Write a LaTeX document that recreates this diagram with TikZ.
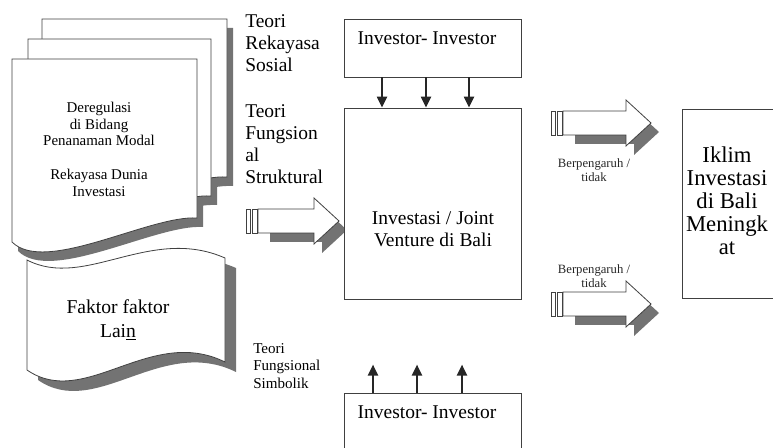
\documentclass[tikz,border=0pt]{standalone}
\usepackage{fontspec}
\setmainfont{Liberation Serif}
\usetikzlibrary{arrows.meta,calc}

% fat block arrow: tail x, middle y, x of the head base
\newcommand{\fatarrow}[3]{%
  \fill[shade] (#1+24,#2-3) -- (#3+8,#2-3) -- (#3+8,#2-14) -- (#3+33,#2+9) -- (#3+8,#2+32) -- (#3+8,#2+21) -- (#1+24,#2+21) -- cycle;
  \draw[outline] (#1,#2-12) rectangle (#1+4,#2+12);
  \draw[outline] (#1+6,#2-12) rectangle (#1+11,#2+12);
  \draw[outline] (#1+12,#2-12) -- (#3,#2-12) -- (#3,#2-23) -- (#3+25,#2) -- (#3,#2+23) -- (#3,#2+12) -- (#1+12,#2+12) -- cycle;
}

\begin{document}
\begin{tikzpicture}[x=0.75pt, y=-0.75pt,
    box/.style={draw=black!75, line width=0.6pt, fill=white, inner sep=0pt},
    outline/.style={draw=black!75, line width=0.6pt, fill=white},
    shade/.style={fill=black!55},
    txt/.style={font=\fontsize{14.6}{16.5}\selectfont, inner sep=0pt, align=center},
    theory/.style={font=\fontsize{14.6}{16.5}\selectfont, inner sep=0pt, align=left, anchor=west},
    small/.style={font=\fontsize{11.2}{12.4}\selectfont, inner sep=0pt, align=center},
    smallleft/.style={font=\fontsize{11.3}{13}\selectfont, inner sep=0pt, align=left, anchor=west},
    lbl/.style={font=\fontsize{9.5}{10.5}\selectfont, inner sep=0pt, align=center, text=black!85},
    large/.style={font=\fontsize{17}{17.3}\selectfont, inner sep=0pt, align=center},
    darr/.style={-{Triangle[length=8.2pt,width=7.5pt]}, line width=1.5pt, black!85},
]
\useasboundingbox (0,0) rectangle (773,448);
\clip (0,0) rectangle (773,448);

% Document stack (shadows first)
\fill[shade, shift={(6,9)}] (42,19) -- (227,19) -- (227,177) .. controls (180,174) and (75,234) .. (42,201) -- cycle;
\fill[shade, shift={(6,9)}] (28,39) -- (211,39) -- (211,196) .. controls (164,193) and (61,253) .. (28,220) -- cycle;
\fill[shade, shift={(6,9)}] (12,59) -- (197,59) -- (197,218) .. controls (150,215) and (45,275) .. (12,242) -- cycle;
\draw[outline] (42,19) -- (227,19) -- (227,177) .. controls (180,174) and (75,234) .. (42,201) -- cycle;
\draw[outline] (28,39) -- (211,39) -- (211,196) .. controls (164,193) and (61,253) .. (28,220) -- cycle;
\draw[outline] (12,59) -- (197,59) -- (197,218) .. controls (150,215) and (45,275) .. (12,242) -- cycle;
\node[small] (dereg) at (99,149.5) {Deregulasi\\di Bidang\\Penanaman Modal\\[13pt]Rekayasa Dunia\\Investasi};

% Tape shape
\fill[shade, shift={(11,10)}] (27,260) .. controls (85,290) and (150,225) .. (225,258) -- (225,362) .. controls (150,325) and (85,410) .. (27,370) -- cycle;
\draw[outline] (27,260) .. controls (85,290) and (150,225) .. (225,258) -- (225,362) .. controls (150,325) and (85,410) .. (27,370) -- cycle;
\node[txt, font=\fontsize{14.7}{18}\selectfont] (faktor) at (118,320) {Faktor faktor\\Lai\underline{n}};

% Theories
\node[theory] (rekayasa) at (245,43.5) {Teori\\Rekayasa\\Sosial};
\node[theory] (struktural) at (245,144) {Teori\\Fungsion\\al\\Struktural};
\node[smallleft] (simbolik) at (253,366) {Teori\\Fungsional\\Simbolik};

% Block arrows
\fatarrow{246}{221}{314}
\fatarrow{551}{123}{626}
\fatarrow{551}{304}{626}
\node[lbl] (pengaruh1) at (594,170) {Berpengaruh /\\tidak};
\node[lbl] (pengaruh2) at (594,276) {Berpengaruh /\\tidak};

% Boxes
\node[box, minimum width=132.75pt, minimum height=43.5pt] (invtop) at (432.5,48) {};
\node[box, minimum width=132.75pt, minimum height=143.25pt] (main) at (432.5,203.5) {};
\node[box, minimum width=132.75pt, minimum height=57.75pt] (invbot) at (432.5,431.5) {};
\node[box, minimum width=69.75pt, minimum height=141.75pt] (iklim) at (728.5,203.5) {};

\node[txt] (invtoptxt) at (427,38) {Investor- Investor};
\node[txt] (maintxt) at (433,229) {Investasi / Joint\\Venture di Bali};
\node[txt] (invbottxt) at (427,412) {Investor- Investor};
\node[large] (iklimtxt) at (727,201) {Iklim\\Investasi\\di Bali\\Meningk\\at};

% Investor arrows
\foreach \dx in {-50.5,-6.5,36.5}
  \draw[darr] ($(invtop.south)+(\dx,0)$) -- ($(main.north)+(\dx,0)$);
\foreach \dx in {-59.5,-15.5,29.5}
  \draw[darr] ($(invbot.north)+(\dx,0)$) -- ($(invbot.north)+(\dx,-28)$);
\end{tikzpicture}
\end{document}
